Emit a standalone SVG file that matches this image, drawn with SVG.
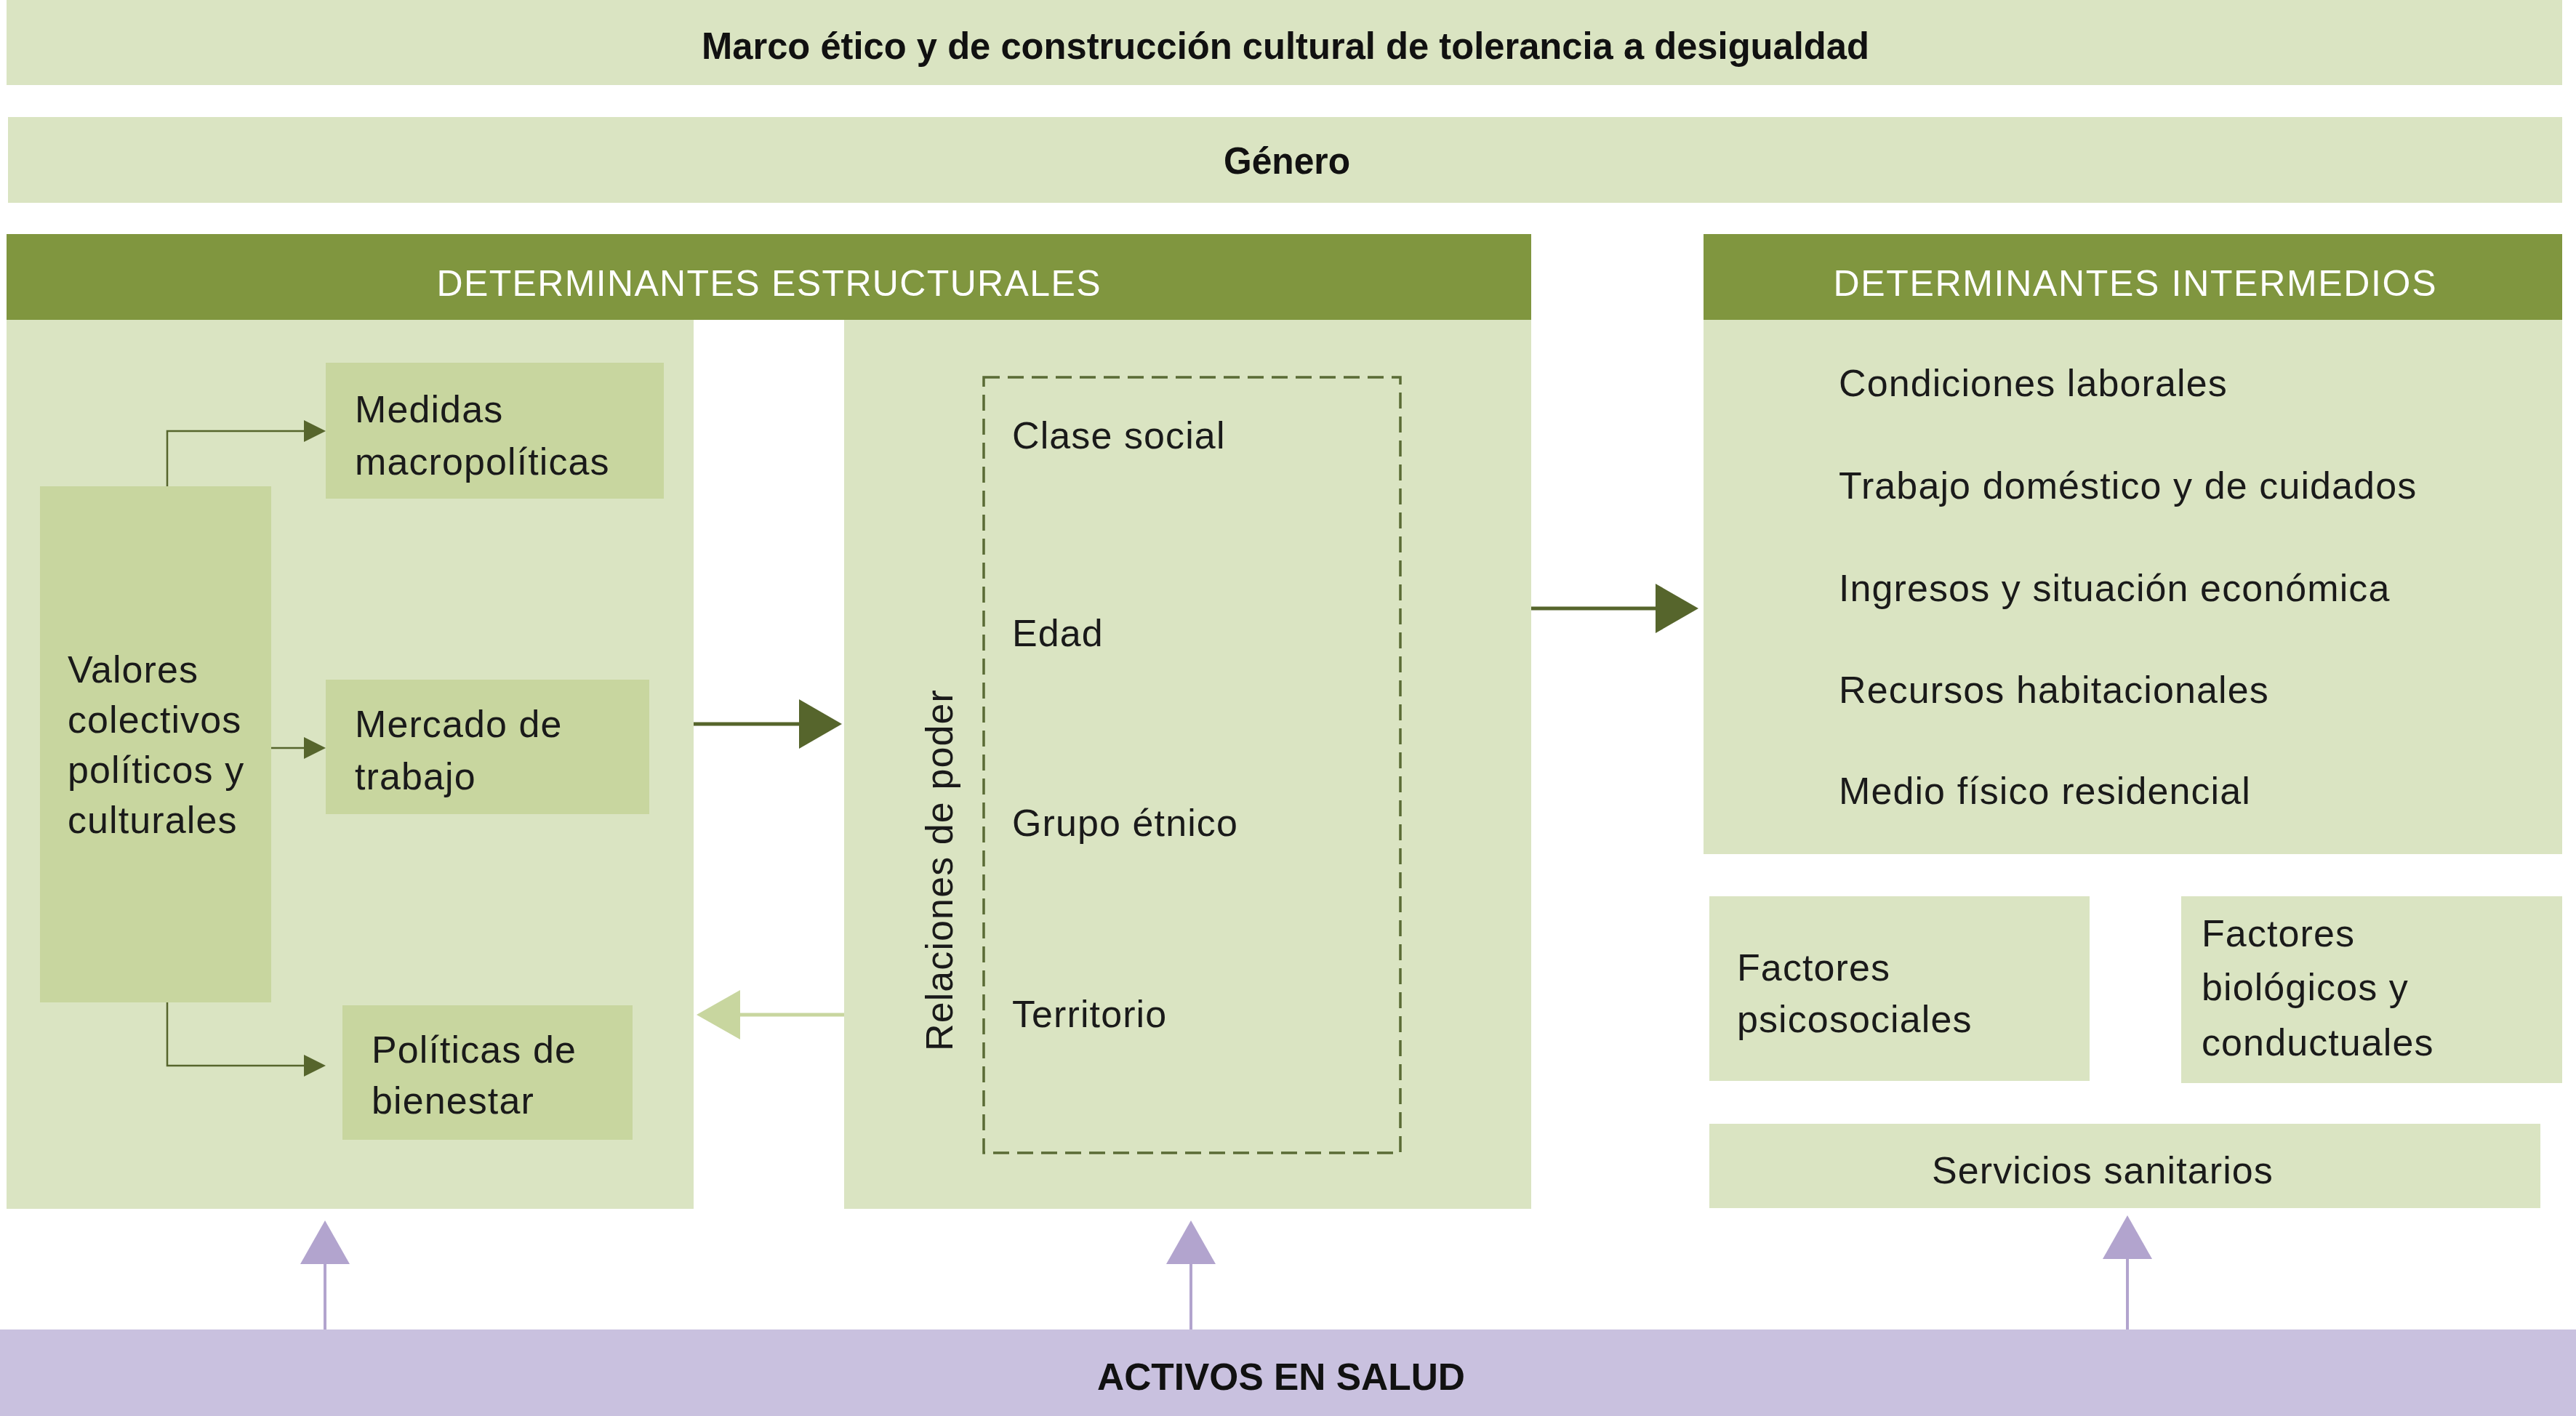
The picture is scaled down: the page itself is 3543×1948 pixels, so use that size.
<svg xmlns="http://www.w3.org/2000/svg" width="3543" height="1948" viewBox="0 0 3543 1948">
<defs>
<style>
.light{fill:#dae4c2}
.mid{fill:#c8d69f}
.head{fill:#80963f}
.t{font-family:"Liberation Sans","Noto Sans",Arial,sans-serif;font-size:52px;fill:#1a1a1a;letter-spacing:1.1px}
.ht{font-family:"Liberation Sans","Noto Sans",Arial,sans-serif;font-size:50px;fill:#ffffff}
.bt{font-family:"Liberation Sans","Noto Sans",Arial,sans-serif;font-size:52px;font-weight:bold;fill:#111111}
.thin{stroke:#56652c;stroke-width:2.5;fill:none}
.thick{stroke:#56652c;stroke-width:5;fill:none}
.back{stroke:#c8d69f;stroke-width:5;fill:none}
.pl{stroke:#b2a4ce;stroke-width:4;fill:none}
</style>
</defs>
<rect width="3543" height="1948" fill="#ffffff"/>

<g id="marco">
<rect class="light" x="9" y="0" width="3515" height="117"/>
<text class="bt" x="1768" y="81" text-anchor="middle" textLength="1606" lengthAdjust="spacingAndGlyphs">Marco ético y de construcción cultural de tolerancia a desigualdad</text>
</g>

<g id="genero">
<rect class="light" x="11" y="161" width="3513" height="118"/>
<text class="bt" x="1770" y="239" text-anchor="middle" textLength="174" lengthAdjust="spacingAndGlyphs">Género</text>
</g>

<g id="det-estructurales">
<rect class="head" x="9" y="322" width="2097" height="118"/>
<text class="ht" x="1057" y="407" text-anchor="middle" textLength="913" lengthAdjust="spacing">DETERMINANTES ESTRUCTURALES</text>
<rect class="light" x="9" y="440" width="945" height="1223"/>
<rect class="light" x="1161" y="440" width="945" height="1223"/>
</g>

<g id="valores">
<rect class="mid" x="55" y="669" width="318" height="710"/>
<text class="t" x="93" y="939">Valores</text>
<text class="t" x="93" y="1008">colectivos</text>
<text class="t" x="93" y="1077">políticos y</text>
<text class="t" x="93" y="1146">culturales</text>
</g>

<g id="medidas">
<rect class="mid" x="448" y="499" width="465" height="187"/>
<text class="t" x="488" y="581">Medidas</text>
<text class="t" x="488" y="653">macropolíticas</text>
</g>

<g id="mercado">
<rect class="mid" x="448" y="935" width="445" height="185"/>
<text class="t" x="488" y="1014">Mercado de</text>
<text class="t" x="488" y="1086">trabajo</text>
</g>

<g id="politicas">
<rect class="mid" x="471" y="1383" width="399" height="185"/>
<text class="t" x="511" y="1462">Políticas de</text>
<text class="t" x="511" y="1532">bienestar</text>
</g>

<g id="relaciones">
<rect x="1353" y="519" width="573" height="1067" fill="none" stroke="#5a6b35" stroke-width="3.5" stroke-dasharray="22,11"/>
<text class="t" transform="translate(1310,1446) rotate(-90)">Relaciones de poder</text>
<text class="t" x="1392" y="617">Clase social</text>
<text class="t" x="1392" y="889">Edad</text>
<text class="t" x="1392" y="1150">Grupo étnico</text>
<text class="t" x="1392" y="1413">Territorio</text>
</g>

<g id="det-intermedios">
<rect class="head" x="2343" y="322" width="1181" height="118"/>
<text class="ht" x="2936" y="407" text-anchor="middle" textLength="829" lengthAdjust="spacing">DETERMINANTES INTERMEDIOS</text>
<rect class="light" x="2343" y="440" width="1181" height="735"/>
<text class="t" x="2529" y="545">Condiciones laborales</text>
<text class="t" x="2529" y="686">Trabajo doméstico y de cuidados</text>
<text class="t" x="2529" y="827">Ingresos y situación económica</text>
<text class="t" x="2529" y="967">Recursos habitacionales</text>
<text class="t" x="2529" y="1106">Medio físico residencial</text>
</g>

<g id="psicosociales">
<rect class="light" x="2351" y="1233" width="523" height="254"/>
<text class="t" x="2389" y="1349">Factores</text>
<text class="t" x="2389" y="1420">psicosociales</text>
</g>

<g id="biologicos">
<rect class="light" x="3000" y="1233" width="524" height="257"/>
<text class="t" x="3028" y="1302">Factores</text>
<text class="t" x="3028" y="1376">biológicos y</text>
<text class="t" x="3028" y="1452">conductuales</text>
</g>

<g id="servicios">
<rect class="light" x="2351" y="1546" width="1143" height="116"/>
<text class="t" x="2892" y="1628" text-anchor="middle">Servicios sanitarios</text>
</g>

<g id="activos">
<rect x="0" y="1829" width="3543" height="119" fill="#c9c1df"/>
<text class="bt" x="1762" y="1912" text-anchor="middle" textLength="506" lengthAdjust="spacingAndGlyphs">ACTIVOS EN SALUD</text>
</g>

<g id="connectors">
<polyline class="thin" points="230,669 230,593 420,593"/>
<polygon points="418,578 448,593 418,608" fill="#56652c"/>
<line class="thin" x1="373" y1="1029" x2="420" y2="1029"/>
<polygon points="418,1014 448,1029 418,1044" fill="#56652c"/>
<polyline class="thin" points="230,1379 230,1466 420,1466"/>
<polygon points="418,1451 448,1466 418,1481" fill="#56652c"/>
<line class="thick" x1="954" y1="996" x2="1102" y2="996"/>
<polygon points="1099,962 1158,996 1099,1030" fill="#56652c"/>
<line class="back" x1="1161" y1="1396" x2="1015" y2="1396"/>
<polygon points="1018,1362 958,1396 1018,1430" fill="#c8d69f"/>
<line class="thick" x1="2106" y1="837" x2="2280" y2="837"/>
<polygon points="2277,803 2336,837 2277,871" fill="#56652c"/>
<line class="pl" x1="447" y1="1829" x2="447" y2="1736"/>
<polygon points="413,1739 447,1679 481,1739" fill="#b2a4ce"/>
<line class="pl" x1="1638" y1="1829" x2="1638" y2="1736"/>
<polygon points="1604,1739 1638,1679 1672,1739" fill="#b2a4ce"/>
<line class="pl" x1="2926" y1="1829" x2="2926" y2="1729"/>
<polygon points="2892,1732 2926,1672 2960,1732" fill="#b2a4ce"/>
</g>
</svg>
